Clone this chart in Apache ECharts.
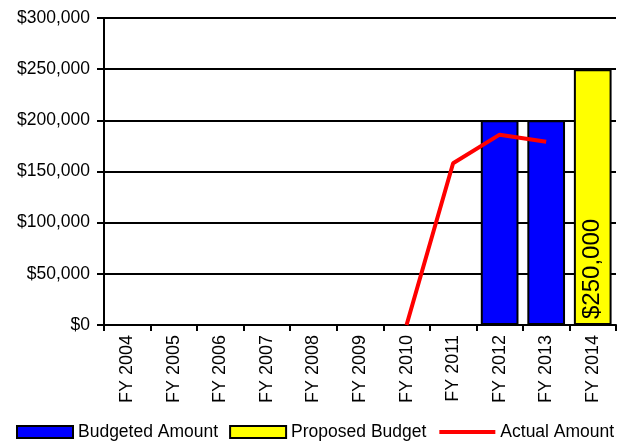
<!DOCTYPE html>
<html>
<head>
<meta charset="utf-8">
<script src="https://cdn.jsdelivr.net/npm/echarts@6/dist/echarts.min.js"></script>
<style>
  html, body { margin: 0; padding: 0; background: #fff; }
  #chart { width: 622px; height: 442px; }
</style>
</head>
<body>
<div id="chart"></div>
<script>
// data
const years = ["FY 2004", "FY 2005", "FY 2006", "FY 2007", "FY 2008", "FY 2009",
  "FY 2010", "FY 2011", "FY 2012", "FY 2013", "FY 2014"];
const budgeted = [null, null, null, null, null, null, null, null, 200000, 200000, null];
const proposed = [null, null, null, null, null, null, null, null, null, null, 250000];
const actual = [null, null, null, null, null, null, 0, 158000, 186000, 179000, null];

const font = "Liberation Sans, Arial, sans-serif";
const money = (v) => "$" + v.toLocaleString("en-US");

const chart = echarts.init(document.getElementById("chart"));
chart.setOption({
  backgroundColor: "#fff",
  animation: false,
  textStyle: { fontFamily: font, color: "#000" },
  grid: { left: 104, right: 6, top: 18, bottom: 117 },
  legend: {
    bottom: 1,
    left: 16,
    width: 620,
    padding: 0,
    itemWidth: 56,
    itemHeight: 12,
    itemGap: 11,
    textStyle: { fontSize: 17.5, color: "#000", fontFamily: font },
    data: [
      { name: "Budgeted Amount", icon: "rect", itemStyle: { borderColor: "#000", borderWidth: 2 } },
      { name: "Proposed Budget", icon: "rect", itemStyle: { borderColor: "#000", borderWidth: 2 } },
      { name: "Actual Amount", itemStyle: { opacity: 0 }, lineStyle: { width: 4, color: "#ff0000" } },
    ],
  },
  xAxis: {
    type: "category",
    data: years,
    boundaryGap: true,
    axisLine: { lineStyle: { color: "#000", width: 2 } },
    axisTick: { show: true, length: 6, lineStyle: { color: "#000", width: 2 } },
    axisLabel: { rotate: 90, fontSize: 18, color: "#000", margin: 10, fontFamily: font },
    splitLine: { show: false },
  },
  yAxis: {
    type: "value",
    min: 0,
    max: 300000,
    interval: 50000,
    axisLine: { show: true, lineStyle: { color: "#000", width: 2 } },
    axisTick: { show: true, length: 7, lineStyle: { color: "#000", width: 2 } },
    axisLabel: { fontSize: 17.5, color: "#000", margin: 14, fontFamily: font, formatter: money },
    splitLine: { lineStyle: { color: "#000", width: 2 } },
  },
  series: [
    {
      name: "Budgeted Amount",
      type: "bar",
      stack: "b",
      barWidth: "81%",
      data: budgeted,
      itemStyle: { color: "#0000ff", borderColor: "#000", borderWidth: 2 },
    },
    {
      name: "Proposed Budget",
      type: "bar",
      stack: "b",
      barWidth: "81%",
      data: proposed,
      itemStyle: { color: "#ffff00", borderColor: "#000", borderWidth: 2 },
      label: {
        show: true,
        position: "insideBottom",
        rotate: 90,
        align: "left",
        verticalAlign: "middle",
        distance: 6,
        fontSize: 24,
        color: "#000",
        fontFamily: font,
        formatter: (p) => money(p.value),
      },
    },
    {
      name: "Actual Amount",
      type: "line",
      data: actual,
      symbol: "none",
      connectNulls: false,
      lineStyle: { color: "#ff0000", width: 4 },
      itemStyle: { color: "#ff0000" },
      z: 5,
    },
  ],
});
</script>
</body>
</html>
